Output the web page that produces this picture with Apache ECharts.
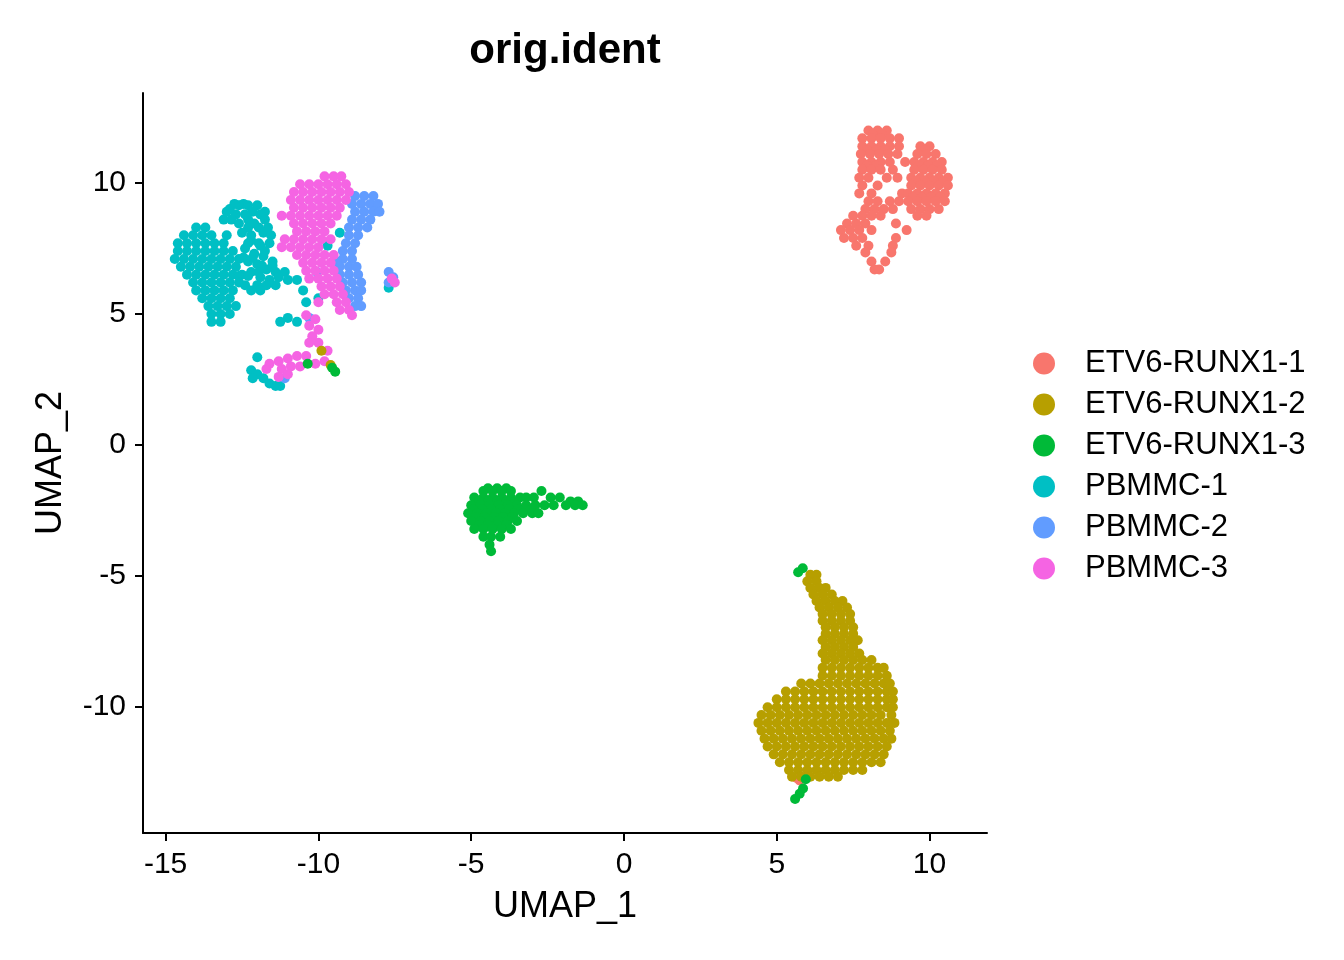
<!DOCTYPE html>
<html>
<head>
<meta charset="utf-8">
<script src="https://cdn.jsdelivr.net/npm/echarts@6/dist/echarts.min.js"></script>
<style>
  html, body { margin: 0; padding: 0; background: #fff; }
  #chart { width: 1344px; height: 960px; }
</style>
</head>
<body>
<div id="chart"></div>
<script>
// group names, in legend order
const groups = ["ETV6-RUNX1-1", "ETV6-RUNX1-2", "ETV6-RUNX1-3", "PBMMC-1", "PBMMC-2", "PBMMC-3"];
const xTicks = [-15, -10, -5, 0, 5, 10];
const yTicks = [-10, -5, 0, 5, 10];

// cells, one row per UMAP_2 value: [UMAP_2, [UMAP_1, ...]]
const etv1Rows = [
  [12.0, [8.0, 8.3, 8.6]],
  [11.85, [8.15, 8.45]],
  [11.7, [7.8, 8.1, 8.4, 8.7, 9.0]],
  [11.4, [7.8, 8.1, 8.4, 8.7, 9.0, 9.7, 10.0]],
  [11.25, [7.95, 8.25, 8.55, 9.85]],
  [11.1, [7.75, 8.05, 8.35, 8.65, 8.95, 9.6, 9.9, 10.2]],
  [10.8, [7.8, 8.1, 8.4, 8.7, 9.2, 9.5, 9.8, 10.1, 10.4]],
  [10.65, [7.95, 8.25, 9.65, 9.95, 10.25]],
  [10.5, [7.8, 8.1, 8.4, 8.8, 9.5, 9.8, 10.1, 10.4]],
  [10.2, [7.7, 8.0, 8.6, 8.95, 9.4, 9.7, 10.0, 10.3, 10.6]],
  [10.05, [9.55, 9.85, 10.15, 10.45]],
  [9.9, [7.8, 8.3, 9.4, 9.7, 10.0, 10.3, 10.6]],
  [9.6, [7.7, 8.1, 9.1, 9.3, 9.6, 9.9, 10.2, 10.5]],
  [9.45, [9.45, 9.75, 10.05, 10.35]],
  [9.3, [8.0, 8.3, 8.7, 9.0, 9.3, 9.6, 9.9, 10.2, 10.5]],
  [9.0, [7.9, 8.2, 8.5, 8.8, 9.4, 9.7, 10.0, 10.3]],
  [8.75, [7.5, 7.8, 8.1, 8.4, 9.6, 9.9]],
  [8.45, [7.3, 7.6, 7.9, 8.9]],
  [8.2, [7.1, 7.4, 7.7, 8.1, 9.25]],
  [7.9, [7.2, 7.5, 7.8, 8.9]],
  [7.6, [7.6, 8.0, 8.8]],
  [7.35, [7.9, 8.75]],
  [7.0, [8.1, 8.55]],
  [6.7, [8.2, 8.35]],
  [-12.7, [5.65]],
  [-12.8, [5.75]]
];

const etv2Rows = [
  [-4.95, [6.1, 6.3]],
  [-5.2, [6.0, 6.3]],
  [-5.45, [6.1, 6.4, 6.6]],
  [-5.7, [6.2, 6.5, 6.8]],
  [-5.95, [6.3, 6.6, 6.9, 7.15]],
  [-6.2, [6.4, 6.7, 7.0, 7.3]],
  [-6.45, [6.5, 6.8, 7.1, 7.4]],
  [-6.7, [6.5, 6.8, 7.1, 7.4]],
  [-6.95, [6.6, 6.9, 7.2, 7.5]],
  [-7.2, [6.6, 6.9, 7.2, 7.5]],
  [-7.45, [6.5, 6.8, 7.1, 7.4, 7.65]],
  [-7.7, [6.6, 6.9, 7.2, 7.5]],
  [-7.95, [6.5, 6.8, 7.1, 7.4, 7.7]],
  [-8.2, [6.6, 6.9, 7.2, 7.5, 7.8, 8.1]],
  [-8.5, [6.5, 6.8, 7.1, 7.4, 7.7, 8.0, 8.3, 8.5]],
  [-8.8, [6.5, 6.8, 7.1, 7.4, 7.7, 8.0, 8.3, 8.6]],
  [-9.1, [5.8, 6.1, 6.4, 6.7, 7.0, 7.3, 7.6, 7.9, 8.2, 8.5, 8.7]],
  [-9.4, [5.3, 5.6, 5.9, 6.2, 6.5, 6.8, 7.1, 7.4, 7.7, 8.0, 8.3, 8.6, 8.8]],
  [-9.7, [5.0, 5.3, 5.6, 5.9, 6.2, 6.5, 6.8, 7.1, 7.4, 7.7, 8.0, 8.3, 8.6, 8.8]],
  [-10.0, [4.7, 5.0, 5.3, 5.6, 5.9, 6.2, 6.5, 6.8, 7.1, 7.4, 7.7, 8.0, 8.3, 8.6, 8.8]],
  [-10.3, [4.5, 4.8, 5.1, 5.4, 5.7, 6.0, 6.3, 6.6, 6.9, 7.2, 7.5, 7.8, 8.1, 8.4, 8.75]],
  [-10.6, [4.4, 4.7, 5.0, 5.3, 5.6, 5.9, 6.2, 6.5, 6.8, 7.1, 7.4, 7.7, 8.0, 8.3, 8.6, 8.85]],
  [-10.9, [4.5, 4.8, 5.1, 5.4, 5.7, 6.0, 6.3, 6.6, 6.9, 7.2, 7.5, 7.8, 8.1, 8.4, 8.7]],
  [-11.2, [4.6, 4.9, 5.2, 5.5, 5.8, 6.1, 6.4, 6.7, 7.0, 7.3, 7.6, 7.9, 8.2, 8.5, 8.75]],
  [-11.5, [4.7, 5.0, 5.3, 5.6, 5.9, 6.2, 6.5, 6.8, 7.1, 7.4, 7.7, 8.0, 8.3, 8.6]],
  [-11.8, [4.9, 5.2, 5.5, 5.8, 6.1, 6.4, 6.7, 7.0, 7.3, 7.6, 7.9, 8.2, 8.5]],
  [-12.1, [5.1, 5.4, 5.7, 6.0, 6.3, 6.6, 6.9, 7.2, 7.5, 7.8, 8.1, 8.4]],
  [-12.4, [5.4, 5.7, 6.0, 6.3, 6.6, 6.9, 7.2, 7.5, 7.8]],
  [-12.65, [5.5, 5.8, 6.1, 6.4, 6.7, 7.0]],
  [3.6, [-9.9]],
  [3.05, [-9.6]]
];

const etv3Rows = [
  [-1.65, [-4.45, -4.15, -3.85]],
  [-1.75, [-4.6, -4.3, -4.0, -3.7, -2.7]],
  [-2.0, [-4.9, -4.6, -4.3, -4.0, -3.7, -3.4, -3.2, -2.95, -2.4, -2.1]],
  [-2.15, [-4.75, -4.45, -4.15, -3.85, -3.55, -1.75, -1.5]],
  [-2.3, [-5.0, -4.7, -4.4, -4.1, -3.8, -3.5, -3.2, -2.9, -2.6, -2.3, -1.9, -1.6, -1.35]],
  [-2.45, [-4.95, -4.65, -4.35, -4.05, -3.75, -3.45, -3.05]],
  [-2.6, [-5.1, -4.8, -4.5, -4.2, -3.9, -3.6, -3.3, -3.0, -2.8]],
  [-2.75, [-4.85, -4.55, -4.25, -3.95, -3.65]],
  [-2.9, [-5.0, -4.7, -4.4, -4.1, -3.8, -3.5]],
  [-3.05, [-4.75, -4.45, -4.15, -3.85]],
  [-3.2, [-4.9, -4.6, -4.3, -4.0, -3.7]],
  [-3.5, [-4.6, -4.35, -4.05]],
  [-3.8, [-4.4]],
  [-4.05, [-4.35]],
  [3.1, [-10.35]],
  [2.95, [-9.55]],
  [2.8, [-9.45]],
  [-4.7, [5.85]],
  [-4.85, [5.7]],
  [-12.75, [5.95]],
  [-13.1, [5.86]],
  [-13.3, [5.75]],
  [-13.5, [5.6]]
];

const pb1Rows = [
  [9.2, [-12.75, -12.45]],
  [9.15, [-12.6, -12.3, -12.0]],
  [9.0, [-12.9]],
  [8.9, [-13.0, -12.15, -11.75]],
  [8.8, [-12.7, -12.4, -11.9]],
  [8.6, [-13.1, -12.85, -12.3, -11.75]],
  [8.45, [-12.6, -12.1]],
  [8.3, [-14.0, -13.7, -12.3, -11.95, -11.65]],
  [8.1, [-12.5, -11.8, -9.3]],
  [8.0, [-14.4, -14.1, -13.8, -13.5, -13.0, -12.2, -11.55]],
  [7.8, [-12.2]],
  [7.7, [-14.6, -14.3, -14.0, -13.7, -13.4, -13.1, -12.3, -11.95, -11.6]],
  [7.6, [-11.9, -9.7]],
  [7.5, [-12.4]],
  [7.4, [-14.6, -14.3, -14.0, -13.7, -13.4, -13.1, -12.8, -11.75]],
  [7.3, [-12.1]],
  [7.2, [-11.8]],
  [7.15, [-12.45, -12.15]],
  [7.1, [-14.7, -14.4, -14.1, -13.8, -13.5, -13.2, -12.9, -12.6]],
  [7.0, [-12.3, -11.5]],
  [6.9, [-12.0]],
  [6.85, [-11.85, -11.5]],
  [6.8, [-14.5, -14.2, -13.9, -13.6, -13.3, -13.0, -12.7]],
  [6.7, [-11.7]],
  [6.6, [-12.2, -11.4, -11.95, -11.1]],
  [6.5, [-14.3, -14.0, -13.7, -13.4, -13.1, -12.8, -12.5]],
  [6.45, [-12.6, -12.3]],
  [6.4, [-11.9, -11.3]],
  [6.3, [-11.6, -11.0, -10.7]],
  [6.2, [-14.1, -13.8, -13.5, -13.2, -12.9, -12.6]],
  [6.1, [-12.4, -12.0, -11.7, -11.4]],
  [6.0, [-7.7]],
  [5.9, [-14.0, -13.7, -13.4, -13.1, -12.8, -12.2, -11.9, -10.5]],
  [5.6, [-13.8, -13.5, -13.2, -12.9, -10.0]],
  [5.45, [-10.4]],
  [5.3, [-13.6, -13.3, -13.0, -12.7]],
  [5.0, [-13.5, -13.2, -12.9]],
  [4.85, [-11.0]],
  [4.7, [-13.5, -13.2, -11.25, -10.7]],
  [3.35, [-12.0]],
  [2.85, [-12.2]],
  [2.7, [-12.0]],
  [2.55, [-12.15, -11.8]],
  [2.35, [-11.6]],
  [2.25, [-11.4, -11.25]]
];

const pb2Rows = [
  [9.5, [-8.8, -8.5, -8.2]],
  [9.2, [-8.9, -8.6, -8.3, -8.05]],
  [8.9, [-8.8, -8.5, -8.2, -8.0]],
  [8.6, [-8.9, -8.6, -8.3]],
  [8.3, [-9.0, -8.7, -8.4]],
  [8.0, [-9.0, -8.7]],
  [7.7, [-9.1, -8.8]],
  [7.4, [-9.2, -8.9]],
  [7.1, [-9.2, -8.9]],
  [7.0, [-9.4]],
  [6.8, [-9.3, -9.0, -8.75]],
  [6.6, [-10.05, -7.7]],
  [6.5, [-9.3, -9.0, -8.7]],
  [6.4, [-7.55]],
  [6.2, [-9.2, -8.9, -8.6, -7.7]],
  [5.9, [-9.1, -8.8, -8.6]],
  [5.6, [-9.0, -8.7]],
  [5.3, [-8.8, -8.6]],
  [4.85, [-10.3]],
  [2.55, [-11.1]]
];

const pb3Rows = [
  [10.25, [-9.8, -9.5, -9.25]],
  [9.95, [-10.6, -10.3, -10.0, -9.7, -9.4, -9.1]],
  [9.65, [-10.8, -10.5, -10.2, -9.9, -9.6, -9.3, -9.0]],
  [9.35, [-10.9, -10.6, -10.3, -10.0, -9.7, -9.4, -9.1]],
  [9.05, [-10.8, -10.5, -10.2, -9.9, -9.6, -9.3]],
  [8.75, [-11.2, -10.9, -10.6, -10.3, -10.0, -9.7, -9.4]],
  [8.45, [-10.8, -10.5, -10.2, -9.9, -9.6]],
  [8.15, [-10.7, -10.4, -10.1, -9.8]],
  [7.85, [-11.1, -10.8, -10.5, -10.2, -9.9, -9.6]],
  [7.55, [-11.2, -10.9, -10.6, -10.3, -10.0]],
  [7.25, [-10.7, -10.4, -10.1, -9.8, -9.5]],
  [6.95, [-10.5, -10.2, -9.9, -9.6]],
  [6.65, [-10.4, -10.1, -9.8, -9.5]],
  [6.35, [-10.3, -10.0, -9.7, -9.4, -7.6]],
  [6.2, [-7.5]],
  [6.05, [-9.9, -9.6, -9.3]],
  [5.75, [-9.8, -9.5, -9.2]],
  [5.45, [-10.0, -9.4, -9.1]],
  [5.15, [-9.3, -9.0]],
  [4.95, [-10.4, -8.9]],
  [4.8, [-10.1]],
  [4.55, [-10.3]],
  [4.4, [-10.0]],
  [4.15, [-10.2]],
  [3.9, [-10.0, -10.3]],
  [3.6, [-9.7]],
  [3.4, [-10.7, -10.4]],
  [3.3, [-11.0]],
  [3.2, [-11.3, -9.8]],
  [3.1, [-11.6, -10.1]],
  [3.0, [-10.9, -10.6]],
  [2.9, [-11.7, -11.2]],
  [2.7, [-11.0]],
  [2.6, [-11.3]]
];

function toPoints(rows) {
  const out = [];
  rows.forEach(([y, xs]) => xs.forEach((x) => out.push([x, y])));
  return out;
}

const colors = ["#F8766D", "#B79F00", "#00BA38", "#00BFC4", "#619CFF", "#F564E3"];
const allRows = [etv1Rows, etv2Rows, etv3Rows, pb1Rows, pb2Rows, pb3Rows];
// draw order: small stray groups sit above the big clusters
const zs = [3, 3, 4, 2, 2, 2];

const font = "'Liberation Sans', Arial, sans-serif";

const chart = echarts.init(document.getElementById("chart"));
chart.setOption({
  animation: false,
  backgroundColor: "#fff",
  textStyle: { fontFamily: font },
  graphic: [
    {
      type: "text",
      x: 565,
      y: 51,
      style: {
        text: "orig.ident",
        fill: "#000",
        font: "bold 42px " + font,
        textAlign: "center",
        textVerticalAlign: "middle"
      }
    }
  ],
  grid: { left: 143, top: 93, width: 844, height: 740 },
  xAxis: {
    type: "value",
    min: -15.74,
    max: 11.88,
    splitLine: { show: false },
    axisLine: { onZero: false, lineStyle: { color: "#000", width: 2 } },
    axisTick: { show: true, length: 8, lineStyle: { color: "#000", width: 2 }, customValues: xTicks },
    axisLabel: { customValues: xTicks, fontSize: 30, color: "#000", margin: 17 },
    name: "UMAP_1",
    nameLocation: "middle",
    nameGap: 56,
    nameTextStyle: { fontSize: 36, color: "#000" }
  },
  yAxis: {
    type: "value",
    min: -14.8,
    max: 13.43,
    splitLine: { show: false },
    axisLine: { onZero: false, lineStyle: { color: "#000", width: 2 } },
    axisTick: { show: true, length: 8, lineStyle: { color: "#000", width: 2 }, customValues: yTicks },
    axisLabel: { customValues: yTicks, fontSize: 30, color: "#000", margin: 17 },
    name: "UMAP_2",
    nameLocation: "middle",
    nameGap: 74,
    nameTextStyle: { fontSize: 36, color: "#000" }
  },
  legend: {
    orient: "vertical",
    left: 1028,
    top: 343,
    icon: "circle",
    itemWidth: 22,
    itemHeight: 22,
    itemGap: 10,
    data: groups,
    textStyle: { fontSize: 31, color: "#000", padding: [0, 0, 0, 25] }
  },
  series: groups.map((name, i) => ({
    type: "scatter",
    name: name,
    data: toPoints(allRows[i]),
    symbolSize: 10,
    z: zs[i],
    itemStyle: { color: colors[i], opacity: 1 },
    emphasis: { disabled: true }
  }))
});
</script>
</body>
</html>
